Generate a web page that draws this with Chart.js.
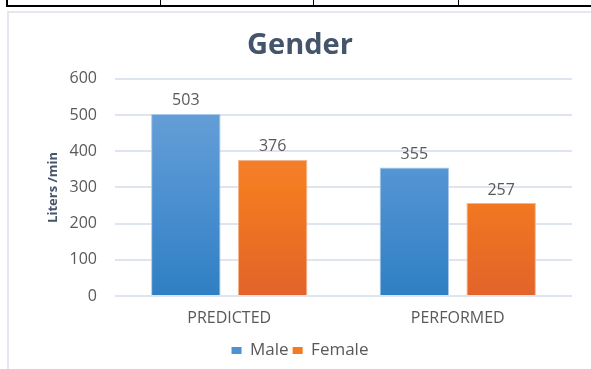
<!DOCTYPE html>
<html>
<head>
<meta charset="utf-8">
<script src="https://cdn.jsdelivr.net/npm/chart.js@4/dist/chart.umd.min.js"></script>
<style>
  body { margin: 0; background: #fff; width: 591px; height: 369px; position: relative; overflow: hidden; }
  .tline { position: absolute; background: #000; }
  #frame { position: absolute; left: 7px; top: 11px; width: 584px; height: 358px;
           border-left: 2px solid #e3e8f0; border-top: 2px solid #e3e8f0; box-sizing: border-box; }
  #wrap { position: absolute; left: 9px; top: 13px; width: 582px; height: 356px; }
</style>
</head>
<body>
<!-- bits of the table the chart sits in -->
<div class="tline" style="left:6px;top:5px;width:585px;height:2px"></div>
<div class="tline" style="left:6px;top:0;width:2px;height:6px"></div>
<div class="tline" style="left:160px;top:0;width:1px;height:6px"></div>
<div class="tline" style="left:313px;top:0;width:1px;height:6px"></div>
<div class="tline" style="left:458px;top:0;width:1px;height:6px"></div>
<div id="frame"></div>
<div id="wrap"><canvas id="genderChart"></canvas></div>

<script>
// data
const categories = ["PREDICTED", "PERFORMED"];
const maleValues = [503, 355];
const femaleValues = [376, 257];
const yTicks = [0, 100, 200, 300, 400, 500, 600];

const txtGrey = "#595959";
const fontFam = "'Open Sans', 'Liberation Sans', sans-serif";

// vertical gradient like the office style bars
makeGradient = (ctx, stops) => {
    const chart = ctx.chart;
    const area = chart.chartArea;
    if (!area) return stops[1];
    const g = chart.ctx.createLinearGradient(0, area.top, 0, area.bottom);
    g.addColorStop(0, stops[0]);
    g.addColorStop(0.5, stops[1]);
    g.addColorStop(1, stops[2]);
    return g;
}

// value labels on top of each bar
const valueLabels = {
    id: "valueLabels",
    afterDatasetsDraw(chart) {
        const c = chart.ctx;
        c.save();
        c.font = "16px " + fontFam;
        c.fillStyle = txtGrey;
        c.textAlign = "center";
        c.textBaseline = "bottom";
        chart.data.datasets.forEach((ds, i) => {
            chart.getDatasetMeta(i).data.forEach((bar, j) => {
                c.fillText(ds.data[j], bar.x, bar.y - 5);
            });
        });
        c.restore();
    }
};

new Chart(document.getElementById("genderChart"), {
    type: "bar",
    data: {
        labels: categories,
        datasets: [
            {
                label: "Male",
                data: maleValues,
                backgroundColor: (ctx) => makeGradient(ctx, ["#6ea3d9", "#4f92d2", "#2f7fc3"]),
                borderColor: "#a9c9ea",
                borderWidth: 1,
                barPercentage: 0.8,
                categoryPercentage: 0.76
            },
            {
                label: "Female",
                data: femaleValues,
                backgroundColor: (ctx) => makeGradient(ctx, ["#f08a4e", "#f47b20", "#e3632a"]),
                borderColor: "#f6b48a",
                borderWidth: 1,
                barPercentage: 0.8,
                categoryPercentage: 0.76
            }
        ]
    },
    options: {
        responsive: true,
        maintainAspectRatio: false,
        animation: false,
        layout: { padding: 0 },
        plugins: {
            title: {
                display: true,
                text: "Gender",
                color: "#44546a",
                font: { family: fontFam, size: 29, weight: "bold" },
                padding: { top: 15, bottom: 16 }
            },
            legend: {
                position: "bottom",
                labels: {
                    color: txtGrey,
                    font: { family: fontFam, size: 17 },
                    boxWidth: 10,
                    boxHeight: 7,
                    padding: 4,
                    generateLabels: (chart) => chart.data.datasets.map((ds, i) => ({
                        text: ds.label,
                        fillStyle: i === 0 ? "#4f92d2" : "#f47b20",
                        strokeStyle: "transparent",
                        lineWidth: 0,
                        fontColor: txtGrey,
                        datasetIndex: i
                    }))
                }
            },
            tooltip: { enabled: false }
        },
        scales: {
            x: {
                afterFit: (scale) => { scale.height = 42; },
                grid: { display: false },
                border: { display: false },
                ticks: {
                    color: txtGrey,
                    font: { family: fontFam, size: 16 },
                    padding: 5
                }
            },
            y: {
                min: 0,
                max: 600,
                afterBuildTicks: (scale) => { scale.ticks = yTicks.map(v => ({ value: v })); },
                afterFit: (scale) => { scale.width = 106; },
                grid: { color: "#dfe5ee", lineWidth: 2, drawTicks: false },
                border: { display: false },
                ticks: {
                    color: txtGrey,
                    font: { family: fontFam, size: 16 },
                    padding: 18
                },
                title: {
                    display: true,
                    text: "Liters /min",
                    color: "#44546a",
                    font: { family: fontFam, size: 13, weight: "bold" },
                    padding: { top: 36, bottom: 0 }
                }
            },
            // empty right-hand axis, only keeps space so the title stays centred on the whole chart
            yRight: {
                position: "right",
                display: true,
                afterFit: (scale) => { scale.width = 19; },
                grid: { display: false },
                border: { display: false },
                ticks: { display: false }
            }
        }
    },
    plugins: [valueLabels]
});
</script>
</body>
</html>
